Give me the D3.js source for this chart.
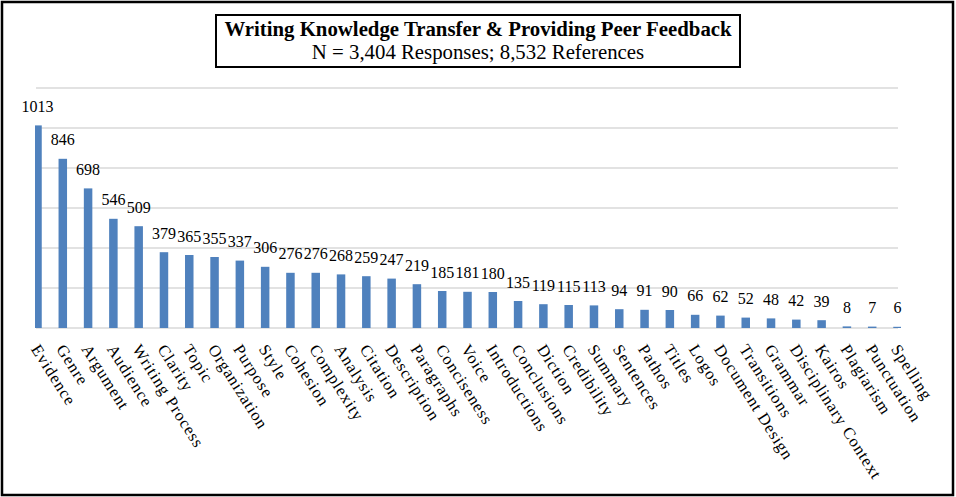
<!DOCTYPE html>
<html>
<head>
<meta charset="utf-8">
<script src="https://cdn.jsdelivr.net/npm/d3@7"></script>
<style>
  body { margin: 0; background: #fff; }
  text { font-family: "Liberation Serif", "Times New Roman", serif; fill: #000; }
</style>
</head>
<body>
<div id="hook"></div>
<script>
// Data
var categories = ["Evidence", "Genre", "Argument", "Audience", "Writing Process", "Clarity", "Topic",
    "Organization", "Purpose", "Style", "Cohesion", "Complexity", "Analysis", "Citation", "Description",
    "Paragraphs", "Conciseness", "Voice", "Introductions", "Conclusions", "Diction", "Credibility",
    "Summary", "Sentences", "Pathos", "Titles", "Logos", "Document Design", "Transitions", "Grammar",
    "Disciplinary Context", "Kairos", "Plagiarism", "Punctuation", "Spelling"];
var counts = [1013, 846, 698, 546, 509, 379, 365, 355, 337, 306, 276, 276, 268, 259, 247,
    219, 185, 181, 180, 135, 119, 115, 113, 94, 91, 90, 66, 62, 52, 48, 42, 39, 8, 7, 6];
var gridTicks = [0, 200, 400, 600, 800, 1000, 1200];
var title = "Writing Knowledge Transfer & Providing Peer Feedback";
var subtitle = "N = 3,404 Responses; 8,532 References";

var W = 956, H = 497;
var svg = d3.select("#hook").append("svg")
    .attr("width", W)
    .attr("height", H);

// outer frame
svg.append("rect")
    .attr("x", 2).attr("y", 2)
    .attr("width", W - 5).attr("height", H - 4)
    .attr("fill", "none").attr("stroke", "#000").attr("stroke-width", 2.5);

// scales
var x = d3.scalePoint().domain(categories).range([37.5, 897.5]);
var y = d3.scaleLinear().domain([0, 1200]).range([328, 88]);

// gridlines
svg.append("g").selectAll("line")
    .data(gridTicks)
    .enter().append("line")
        .attr("x1", 36).attr("x2", 898)
        .attr("y1", function(d) { return y(d) })
        .attr("y2", function(d) { return y(d) })
        .attr("stroke", "#d9d9d9")
        .attr("stroke-width", 1.5);

// clip the bars to the plot area
svg.append("clipPath").attr("id", "plot")
    .append("rect").attr("x", 35).attr("y", 80).attr("width", 866).attr("height", 248);

var bw = 8.5;
svg.append("g").attr("clip-path", "url(#plot)")
    .selectAll("rect")
    .data(counts)
    .enter().append("rect")
        .attr("x", function(d, i) { return x(categories[i]) - bw / 2 })
        .attr("y", function(d) { return y(d) })
        .attr("width", bw)
        .attr("height", function(d) { return y(0) - y(d) })
        .attr("fill", "#4f81bd");

// value labels
svg.append("g").selectAll("text")
    .data(counts)
    .enter().append("text")
        .attr("x", function(d, i) { return x(categories[i]) })
        .attr("y", function(d) { return y(d) - 13.5 })
        .attr("text-anchor", "middle")
        .style("font-size", "16px")
        .text(function(d) { return d });

// category labels, rotated (steep, like the original)
svg.append("g").selectAll("text")
    .data(categories)
    .enter().append("text")
        .attr("transform", function(d) { return "translate(" + (x(d) - 7) + ",349) rotate(57.5)" })
        .attr("text-anchor", "start")
        .style("font-size", "16.5px")
        .style("letter-spacing", "0.9px")
        .text(function(d) { return d });

// title box
svg.append("rect")
    .attr("x", 216).attr("y", 15)
    .attr("width", 524).attr("height", 52)
    .attr("fill", "#fff").attr("stroke", "#000").attr("stroke-width", 2);
svg.append("text")
    .attr("x", 478).attr("y", 36)
    .attr("text-anchor", "middle")
    .style("font-size", "20.8px").style("font-weight", "bold")
    .text(title);
svg.append("text")
    .attr("x", 478).attr("y", 59)
    .attr("text-anchor", "middle")
    .style("font-size", "20.8px")
    .text(subtitle);
</script>
</body>
</html>
